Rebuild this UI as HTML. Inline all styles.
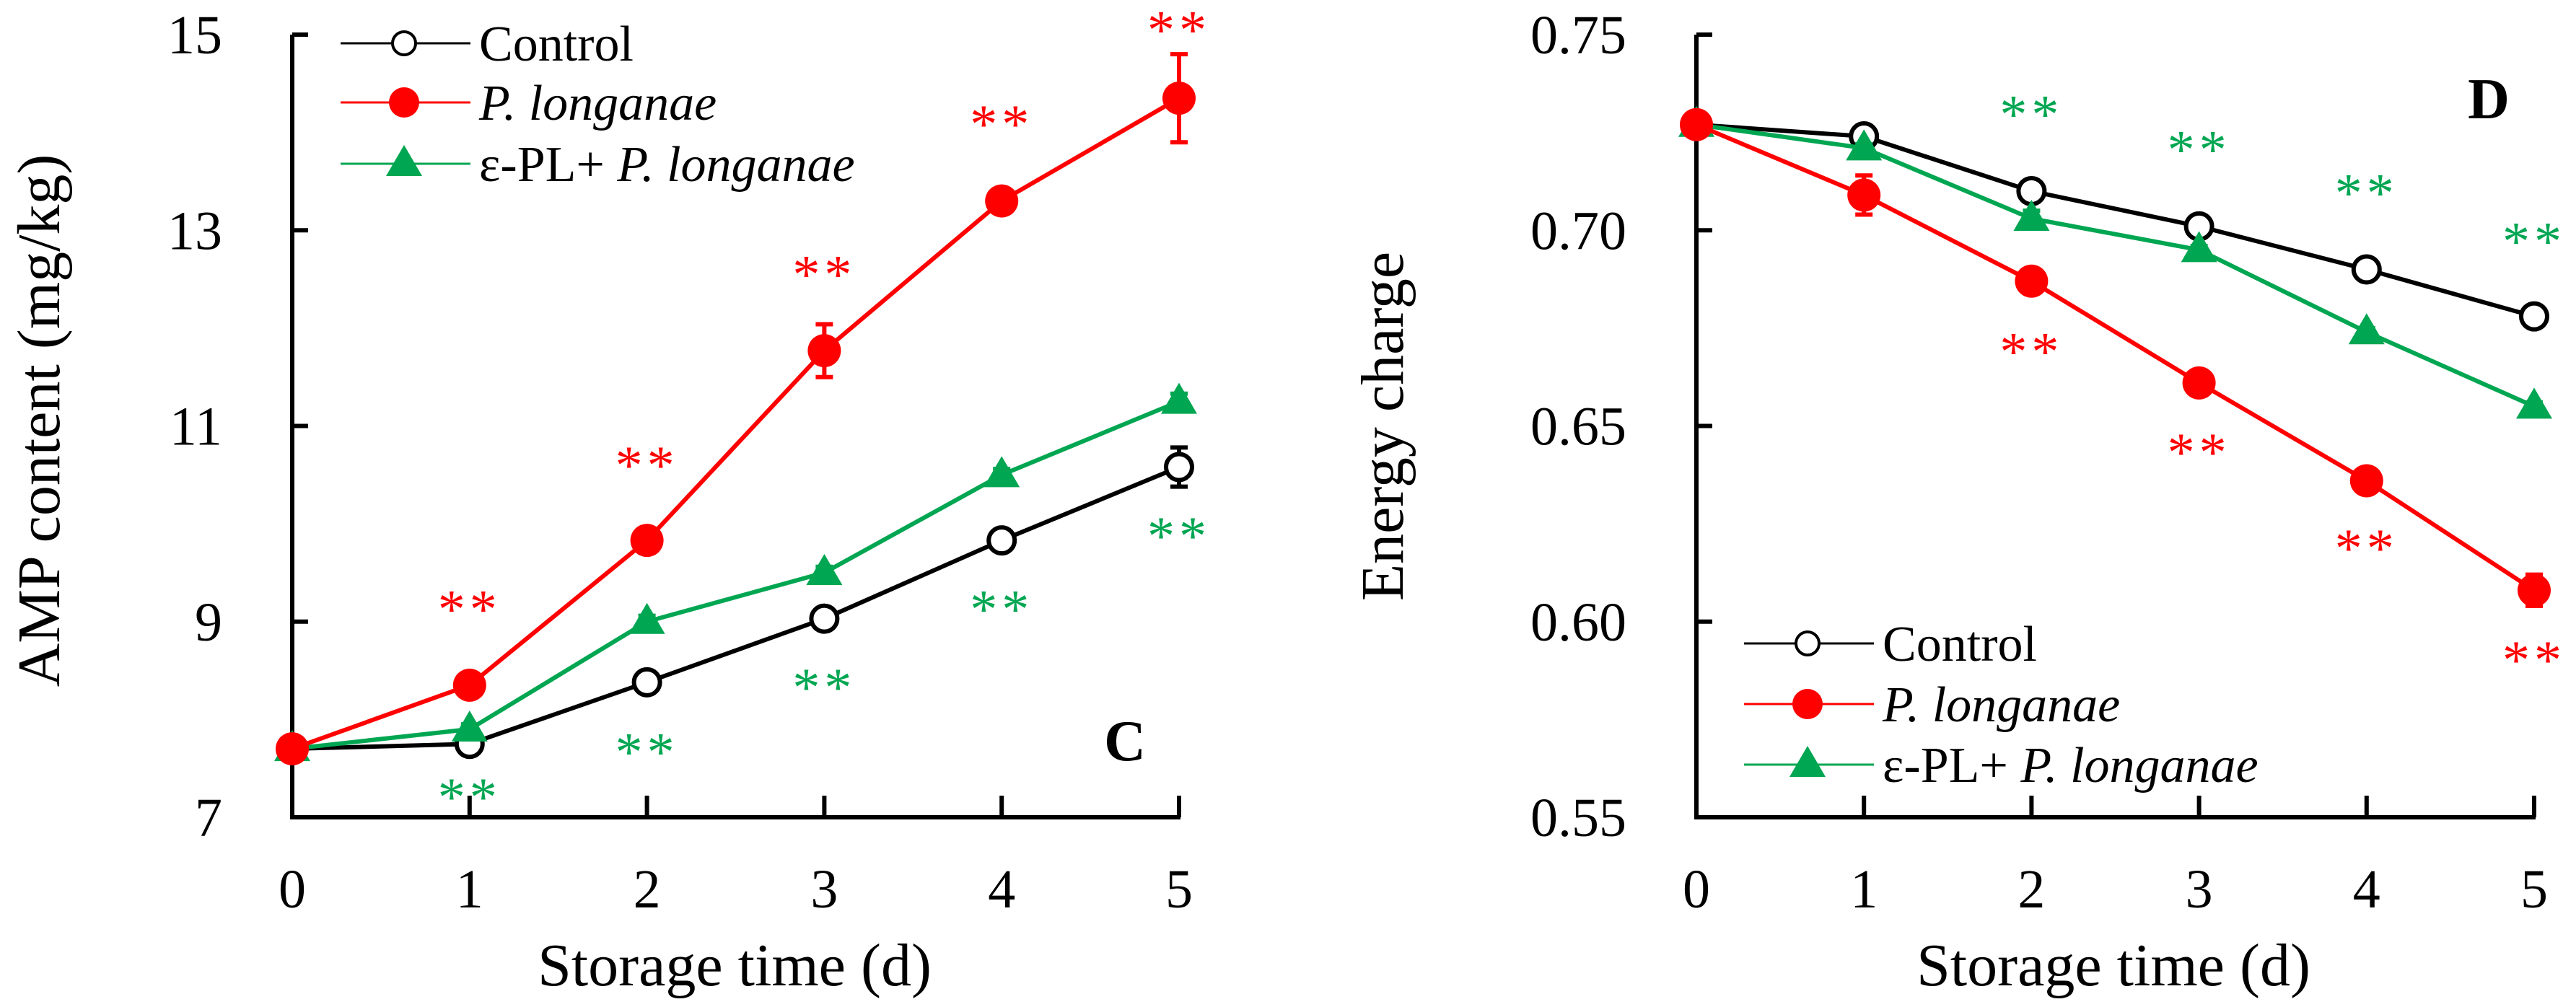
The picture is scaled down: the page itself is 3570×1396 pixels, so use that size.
<!DOCTYPE html>
<html><head><meta charset="utf-8"><style>
html,body{margin:0;padding:0;background:#fff;}
svg{display:block;font-family:"Liberation Serif",serif;}
svg text, svg tspan{font-family:"Liberation Serif",serif;}
</style></head><body>
<svg id="chart" width="3570" height="1396" viewBox="0 0 3570 1396" xmlns="http://www.w3.org/2000/svg"></svg>
<script>
const days = [0,1,2,3,4,5];
// Panel C (AMP content)
const ampControl = [7.7,7.75,8.38,9.03,9.83,10.58];
const ampControlErr = [0.05,0.05,0.06,0.06,0.08,0.2];
const ampPL = [7.7,8.35,9.83,11.77,13.3,14.35];
const ampPLErr = [0.05,0.06,0.08,0.27,0.12,0.45];
const ampEPL = [7.7,7.9,9.0,9.5,10.5,11.25];
const ampEPLErr = [0.05,0.05,0.06,0.06,0.06,0.08];
const ampTicks = [7,9,11,13,15];
const ampStarRed = [null,9.16,10.63,12.58,14.12,15.08];
const ampStarGreen = [null,7.24,7.70,8.36,9.16,9.91];
// Panel D (Energy charge)
const ecControl = [0.727,0.724,0.710,0.701,0.690,0.678];
const ecControlErr = [0.001,0.001,0.001,0.002,0.002,0.002];
const ecPL = [0.727,0.709,0.687,0.661,0.636,0.608];
const ecPLErr = [0.001,0.005,0.001,0.001,0.001,0.004];
const ecEPL = [0.727,0.721,0.703,0.695,0.674,0.655];
const ecEPLErr = [0.001,0.001,0.002,0.001,0.001,0.001];
const ecTicks = [0.55,0.60,0.65,0.70,0.75];
const ecStarRed = [null,null,0.6698,0.6441,0.6196,0.591];
const ecStarGreen = [null,null,0.7305,0.7214,0.7104,0.698];

const NS="http://www.w3.org/2000/svg";
const svg=document.getElementById('chart');
const FF='"Liberation Serif", serif';
function mk(tag,attrs,parent,text){const e=document.createElementNS(NS,tag);for(const k in attrs)e.setAttribute(k,attrs[k]);if(text!==undefined)e.textContent=text;(parent||svg).appendChild(e);return e;}

function panel(cfg){
  const g=mk('g',{});
  
  
  const xs=d=>cfg.x0+(cfg.x5-cfg.x0)*d/5;
  const ys=v=>cfg.yb+(cfg.yt-cfg.yb)*(v-cfg.ymin)/(cfg.ymax-cfg.ymin);
  const ax=mk('path',{d:`M${cfg.x0},${ys(cfg.ymax)} L${cfg.x0},${cfg.yb} L${cfg.x5+2},${cfg.yb}`,fill:'none',stroke:'#000','stroke-width':6},g);
  
  
  cfg.ticks.forEach(t=>{
    const l=mk('line',{x1:cfg.x0,x2:cfg.x0+22,y1:ys(t),y2:ys(t),stroke:'#000','stroke-width':6},g);
    
    
    const tx=mk('text',{x:cfg.tlx,y:ys(t)+26,'text-anchor':'end','font-size':76,'font-family':FF},g,cfg.fmt(t));
    
    
  });
  days.forEach(d=>{
    if(d>0){const l=mk('line',{x1:xs(d),x2:xs(d),y1:cfg.yb,y2:cfg.yb-30,stroke:'#000','stroke-width':6},g);
    
    }
    const tx=mk('text',{x:xs(d),y:1258,'text-anchor':'middle','font-size':76,'font-family':FF},g,String(d));
    
    
  });
  const xt=mk('text',{x:cfg.xtx,y:1366,'text-anchor':'middle','font-size':84,'font-family':FF},g,'Storage time (d)');
  
  
  const yt=mk('text',{x:0,y:0,'text-anchor':'middle','font-size':84,'font-family':FF,transform:`translate(${cfg.ytx},${cfg.yty}) rotate(-90)`},g,cfg.ytitle);
  
  
  const pl=mk('text',{x:cfg.lblx,y:cfg.lbly,'text-anchor':'middle','font-size':80,'font-weight':'bold','font-family':FF},g,cfg.label);
  
  
  const series=[
    {v:cfg.ctl,e:cfg.ctlE,c:'#000',m:'open',n:'control'},
    {v:cfg.epl,e:cfg.eplE,c:'#00a651',m:'tri',n:'epl-longanae'},
    {v:cfg.pl,e:cfg.plE,c:'#ff0000',m:'dot',n:'p-longanae'}];
  series.forEach(s=>{
    const sg=mk('g',{},g);
    
    
    const ln=mk('polyline',{points:s.v.map((v,i)=>xs(days[i])+','+ys(v)).join(' '),fill:'none',stroke:s.c,'stroke-width':6},sg);
    
    
    s.v.forEach((v,i)=>{
      const x=xs(days[i]),y=ys(v),e=s.e[i];
      const eb=mk('path',{d:`M${x},${ys(v-e)} L${x},${ys(v+e)} M${x-12},${ys(v-e)} L${x+12},${ys(v-e)} M${x-12},${ys(v+e)} L${x+12},${ys(v+e)}`,stroke:s.c,'stroke-width':6,fill:'none'},sg);
      
      
      drawMarker(sg,s.m,x,y,s.c,true);
    });
  });
  [[cfg.starR,'#ff0000'],[cfg.starG,'#00a651']].forEach(([arr,c])=>{
    arr.forEach((v,i)=>{ if(v===null)return;
      const st=mk('text',{x:xs(days[i]),y:ys(v)+30,'text-anchor':'middle','font-size':76,fill:c,'letter-spacing':'6','font-family':FF},g,'**');
      
      
    });
  });
  const lg=mk('g',{},g);
  
  
  const items=[['#000','open',[['Control','normal']]],['#ff0000','dot',[['P. longanae','italic']]],['#00a651','tri',[['ε-PL+ ','normal'],['P. longanae','italic']]]];
  items.forEach((it,k)=>{
    const y=cfg.legY[k];
    const eg=mk('g',{},lg);
    
    
    mk('line',{x1:cfg.legX,x2:cfg.legX+180,y1:y,y2:y,stroke:it[0],'stroke-width':3},eg);
    drawMarker(eg,it[1],cfg.legX+88,y,it[0],false);
    const t=mk('text',{x:cfg.legX+192,y:y+24,'font-size':70,'font-family':FF},eg);
    it[2].forEach(p=>mk('tspan',{'font-style':p[1],'font-family':FF},t,p[0]));
  });
}
function drawMarker(p,m,x,y,c,big){
  let el;
  if(m==='open') el=mk('circle',{cx:x,cy:y,r:big?18:16,fill:'#fff',stroke:c,'stroke-width':big?6:4},p);
  else if(m==='dot') el=mk('circle',{cx:x,cy:y,r:big?23:21,fill:c},p);
  else el=mk('polygon',{points:`${x},${y-26} ${x+25},${y+17} ${x-25},${y+17}`,fill:c},p);
  
  
}
panel({name:'panel-c-amp',x0:405,x5:1634,yb:1133,yt:48,ymin:7,ymax:15,ticks:ampTicks,fmt:t=>String(t),tlx:308,
  ctl:ampControl,ctlE:ampControlErr,pl:ampPL,plE:ampPLErr,epl:ampEPL,eplE:ampEPLErr,starR:ampStarRed,starG:ampStarGreen,
  xtx:1018,ytx:82,yty:583,ytitle:'AMP content (mg/kg)',label:'C',lblx:1559,lbly:1054,legX:472,legY:[60,142,227]});
panel({name:'panel-d-energy',x0:2351,x5:3512,yb:1133,yt:48,ymin:0.55,ymax:0.75,ticks:ecTicks,fmt:t=>t.toFixed(2),tlx:2254,
  ctl:ecControl,ctlE:ecControlErr,pl:ecPL,plE:ecPLErr,epl:ecEPL,eplE:ecEPLErr,starR:ecStarRed,starG:ecStarGreen,
  xtx:2929,ytx:1944,yty:591,ytitle:'Energy charge',label:'D',lblx:3449,lbly:164,legX:2417,legY:[892,976,1060]});
</script>
</body></html>
